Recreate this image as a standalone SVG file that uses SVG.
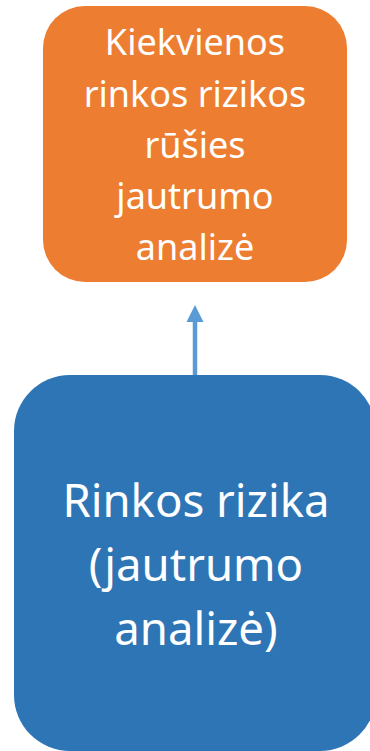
<svg xmlns="http://www.w3.org/2000/svg" width="370" height="751" viewBox="0 0 370 751">
<defs>
<style>
.t{font-family:"Noto Sans","Open Sans","Liberation Sans",sans-serif;fill:#ffffff;text-anchor:middle}
.o{font-size:36px}
.b{font-size:45.5px}
</style>
</defs>
<rect width="370" height="751" fill="#ffffff"/>
<g id="connectors">
<line x1="195" y1="378" x2="195" y2="322" stroke="#5B9BD5" stroke-width="4.5"/>
<path d="M186.5,322 L195,305 L203.5,322 Z" fill="#5B9BD5"/>
</g>
<g id="node-orange">
<rect x="43" y="6" width="304" height="276" rx="42" ry="42" fill="#ED7D31"/>
<text class="t o" x="195" y="55">Kiekvienos</text>
<text class="t o" x="195" y="107">rinkos rizikos</text>
<text class="t o" x="195" y="158">rūšies</text>
<text class="t o" x="195" y="209">jautrumo</text>
<text class="t o" x="195" y="260">analizė</text>
</g>
<g id="node-blue">
<rect x="14" y="375" width="362" height="376" rx="56" ry="56" fill="#2E75B6"/>
<text class="t b" x="196" y="517">Rinkos rizika</text>
<text class="t b" x="196" y="581">(jautrumo</text>
<text class="t b" x="196" y="645">analizė)</text>
</g>
</svg>
